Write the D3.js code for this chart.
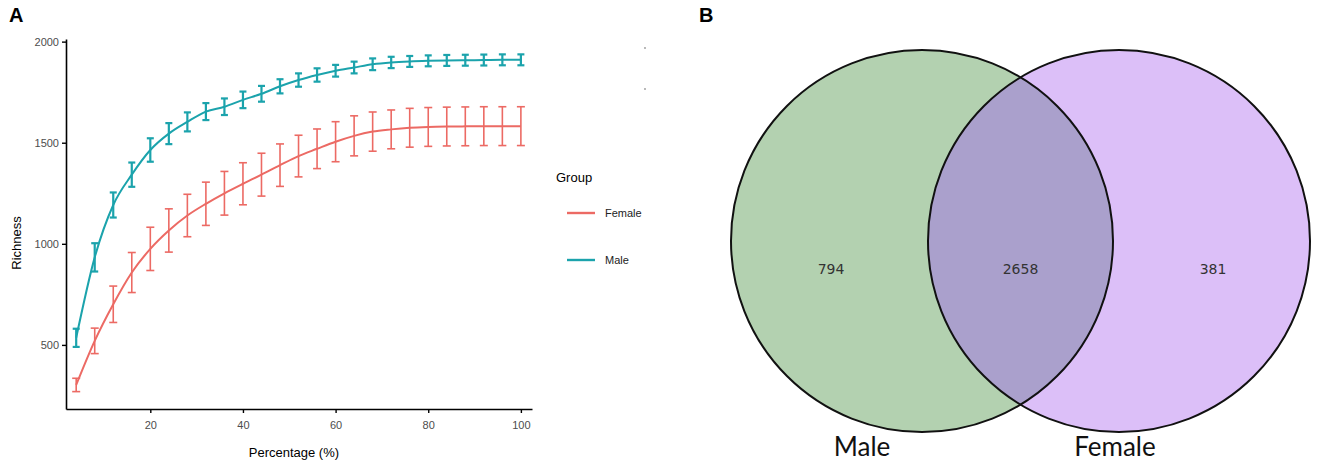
<!DOCTYPE html>
<html lang="en">
<head>
<meta charset="utf-8">
<script src="https://d3js.org/d3.v7.min.js"></script>
<title>Richness and Venn</title>
<style>
  body { margin: 0; background: #fff; }
  text { font-family: "Liberation Sans", Arial, sans-serif; }
</style>
</head>
<body>
<svg id="main" width="1325" height="472"></svg>
<script>
// rarefaction data
const pct = [4, 8, 12, 16, 20, 24, 28, 32, 36, 40, 44, 48, 52, 56, 60, 64, 68, 72, 76, 80, 84, 88, 92, 96, 100];
const maleRich = [535, 933, 1192, 1342, 1464, 1545, 1603, 1654, 1678, 1712, 1742, 1779, 1810, 1835, 1856, 1872, 1888, 1897, 1902, 1905, 1907, 1908, 1909, 1910, 1910];
const maleErr = [45, 70, 62, 60, 58, 52, 47, 42, 41, 41, 39, 35, 33, 33, 29, 29, 29, 28, 27, 27, 27, 27, 27, 27, 27];
const femaleRich = [302, 520, 701, 858, 975, 1066, 1140, 1198, 1250, 1297, 1342, 1389, 1434, 1470, 1505, 1534, 1555, 1566, 1574, 1578, 1580, 1581, 1582, 1582, 1582];
const femaleErr = [33, 63, 90, 99, 107, 107, 105, 107, 108, 104, 106, 105, 103, 98, 99, 99, 97, 96, 96, 96, 96, 96, 96, 96, 96];
const yTicks = [500, 1000, 1500, 2000];
const xTicks = [20, 40, 60, 80, 100];
const groups = ['Female', 'Male'];
const groupColors = {Female: '#ec6a64', Male: '#1ba3ac'};

// venn data
const vennSets = ['Male', 'Female'];
const vennOnly = [794, 381];
const vennShared = 2658;

let svg = d3.select('svg#main');

// ---------- panel A ----------
let x = d3.scaleLinear().domain([1.8, 102.4]).range([66, 532]);
let y = d3.scaleLinear().domain([183, 2013]).range([409, 39]);

svg.append('text').text('A').attr('x', 9).attr('y', 22)
    .style('font-size', '20px').style('font-weight', 'bold');

let series = [
    {name: 'Female', vals: femaleRich, err: femaleErr, cap: 4, w: 1.6},
    {name: 'Male', vals: maleRich, err: maleErr, cap: 3.5, w: 2.2}
];

let line = d3.line()
    .x(d => x(d[0]))
    .y(d => y(d[1]))
    .curve(d3.curveMonotoneX);

series.forEach(s => {
    let pts = pct.map((p, i) => [p, s.vals[i], s.err[i]]);
    let g = svg.append('g').attr('stroke', groupColors[s.name]).attr('fill', 'none');
    g.append('path').attr('d', line(pts)).attr('stroke-width', 2);
    let eb = g.selectAll('g.eb').data(pts).enter().append('g').attr('class', 'eb')
        .attr('stroke-width', s.w);
    eb.append('line')
        .attr('x1', d => x(d[0])).attr('x2', d => x(d[0]))
        .attr('y1', d => y(d[1] - d[2])).attr('y2', d => y(d[1] + d[2]));
    eb.append('line')
        .attr('x1', d => x(d[0]) - s.cap).attr('x2', d => x(d[0]) + s.cap)
        .attr('y1', d => y(d[1] + d[2])).attr('y2', d => y(d[1] + d[2]));
    eb.append('line')
        .attr('x1', d => x(d[0]) - s.cap).attr('x2', d => x(d[0]) + s.cap)
        .attr('y1', d => y(d[1] - d[2])).attr('y2', d => y(d[1] - d[2]));
});

let yAxis = svg.append('g').attr('transform', 'translate(66,0)')
    .call(d3.axisLeft(y).tickValues(yTicks).tickFormat(d3.format('d')).tickSize(4).tickSizeOuter(0));
let xAxis = svg.append('g').attr('transform', 'translate(0,409)')
    .call(d3.axisBottom(x).tickValues(xTicks).tickFormat(d3.format('d')).tickSize(4).tickSizeOuter(0));
[xAxis, yAxis].forEach(a => {
    a.select('.domain').attr('stroke', '#000').attr('stroke-width', 1.6);
    a.selectAll('.tick line').attr('stroke', '#000').attr('stroke-width', 1.4);
    a.selectAll('.tick text').attr('fill', '#4d4d4d')
        .style('font-size', '11px').style('font-family', '"Liberation Sans", Arial, sans-serif');
});
xAxis.selectAll('.tick text').attr('dy', '1.2em');

svg.append('text').text('Percentage (%)')
    .attr('x', x(51)).attr('y', 457).attr('text-anchor', 'middle')
    .style('font-size', '13px');
svg.append('text').text('Richness')
    .attr('transform', 'translate(21,243) rotate(-90)').attr('text-anchor', 'middle')
    .style('font-size', '13px');

// legend
svg.append('text').text('Group').attr('x', 556).attr('y', 182).style('font-size', '13px');
let leg = svg.selectAll('.lineLegend').data(groups).enter().append('g')
    .attr('class', 'lineLegend')
    .attr('transform', (d, i) => 'translate(567,' + (213 + i * 47) + ')');
leg.append('line').attr('x1', 0).attr('x2', 28).attr('y1', 0).attr('y2', 0)
    .attr('stroke', d => groupColors[d]).attr('stroke-width', 2.4);
leg.append('text').text(d => d).attr('x', 38).attr('y', 4)
    .style('font-size', '11px').attr('fill', '#222');

// stray specks in the original figure
svg.selectAll('.speck').data([48, 89]).enter().append('circle')
    .attr('cx', 645).attr('cy', d => d).attr('r', 0.9).attr('fill', '#999');

// ---------- panel B ----------
svg.append('text').text('B').attr('x', 699).attr('y', 22)
    .style('font-size', '20px').style('font-weight', 'bold');

let vx = d3.scalePoint().domain(vennSets).range([922, 1119]);
let vr = 191, vcy = 241;
let vennFill = {Male: '#b3d1b0', Female: '#dcbff8'};

let defs = svg.append('defs');
defs.append('clipPath').attr('id', 'clipMale')
    .append('circle').attr('cx', vx('Male')).attr('cy', vcy).attr('r', vr);

svg.selectAll('.vennFill').data(vennSets).enter().append('circle')
    .attr('class', 'vennFill')
    .attr('cx', d => vx(d)).attr('cy', vcy).attr('r', vr)
    .attr('fill', d => vennFill[d]);
svg.append('circle').attr('clip-path', 'url(#clipMale)')
    .attr('cx', vx('Female')).attr('cy', vcy).attr('r', vr)
    .attr('fill', '#aaa0cc');
svg.selectAll('.vennEdge').data(vennSets).enter().append('circle')
    .attr('cx', d => vx(d)).attr('cy', vcy).attr('r', vr)
    .attr('fill', 'none').attr('stroke', '#111').attr('stroke-width', 2);

let numStyle = sel => sel.attr('text-anchor', 'middle')
    .style('font-family', '"DejaVu Sans", sans-serif').style('font-size', '14px').attr('fill', '#333');
svg.append('text').text(vennOnly[0]).attr('x', 831).attr('y', 274).call(numStyle);
svg.append('text').text(vennShared).attr('x', (vx('Male') + vx('Female')) / 2).attr('y', 274).call(numStyle);
svg.append('text').text(vennOnly[1]).attr('x', 1213).attr('y', 274).call(numStyle);

svg.selectAll('.vennLabel').data(vennSets).enter().append('text')
    .attr('x', (d, i) => i === 0 ? 862 : 1115).attr('y', 456)
    .attr('text-anchor', 'middle')
    .style('font-family', 'Lato, "Open Sans", sans-serif').style('font-size', '26px')
    .attr('fill', '#111')
    .text(d => d);
</script>
</body>
</html>
